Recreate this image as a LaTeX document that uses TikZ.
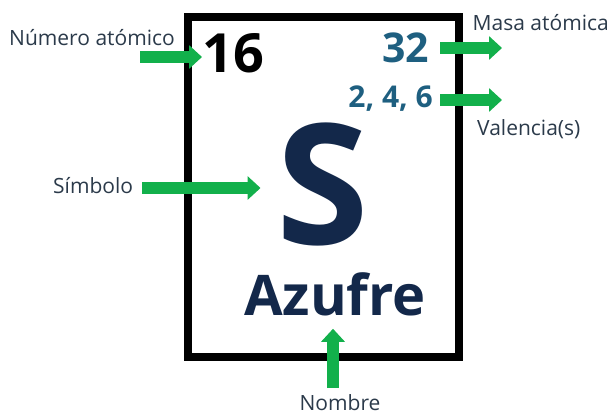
\documentclass[tikz,border=0pt]{standalone}
\usepackage{fontspec}
\setmainfont{Open Sans}
\usetikzlibrary{arrows.meta}

\definecolor{verde}{HTML}{12B04B}
\definecolor{texto}{HTML}{2B3A4A}
\definecolor{azul}{HTML}{1E5F80}
\definecolor{marino}{HTML}{13284A}

\tikzset{
    etiqueta/.style={inner sep=0pt, text=texto, font=\fontsize{21}{25}\selectfont},
    flecha/.style={draw=verde, line width=12pt, -{Triangle[width=23pt,length=13pt]}},
}

\begin{document}
\begin{tikzpicture}[x=1pt,y=-1pt]
    \useasboundingbox (0,0) rectangle (612,415);

    % caja del elemento
    \draw[line width=8pt] (188,17) rectangle (459,357);

    % contenido
    \node[inner sep=0pt, anchor=base west, font=\fontsize{54}{60}\selectfont\bfseries] (num) at (202,72) {16};
    \node[inner sep=0pt, anchor=base east, text=azul, font=\fontsize{41}{48}\selectfont\bfseries] (masa) at (429,62) {32};
    \node[inner sep=0pt, anchor=base east, text=azul, font=\fontsize{30}{36}\selectfont\bfseries] (val) at (433,107) {2, 4, 6};
    \node[inner sep=0pt, anchor=base, text height=118pt, text depth=0pt, text=marino, font=\fontsize{168}{180}\selectfont\bfseries] (sim) at (323,244) {S};
    \node[inner sep=0pt, anchor=base, text=marino, font=\fontsize{56}{62}\selectfont\bfseries] (nom) at (335,315) {Azufre};

    % etiquetas
    \node[etiqueta, anchor=base west] (lnum) at (9,45) {Número atómico};
    \node[etiqueta, anchor=base east] (lmasa) at (609,30) {Masa atómica};
    \node[etiqueta, anchor=base west] (lval) at (477,135) {Valencia(s)};
    \node[etiqueta, anchor=base west] (lsim) at (53,193) {Símbolo};
    \node[etiqueta, anchor=base] (lnom) at (340,410) {Nombre};

    % flechas
    \coordinate (a1) at (140,57);
    \coordinate (a2) at (440,48);
    \coordinate (a3) at (440,100);
    \coordinate (a4) at (142,188);
    \coordinate (a5) at (333,388);
    \draw[flecha] (a1) -- (a1 -| num.west);
    \draw[flecha] (a2) -- ([xshift=25pt]a2 -| lval.west);
    \draw[flecha] (a3) -- ([xshift=25pt]a3 -| lval.west);
    \draw[flecha] (a4) -- ([xshift=-16pt]a4 -| sim.west);
    \draw[flecha] (a5) -- ([yshift=-13pt]a5 |- nom.south);
\end{tikzpicture}
\end{document}
